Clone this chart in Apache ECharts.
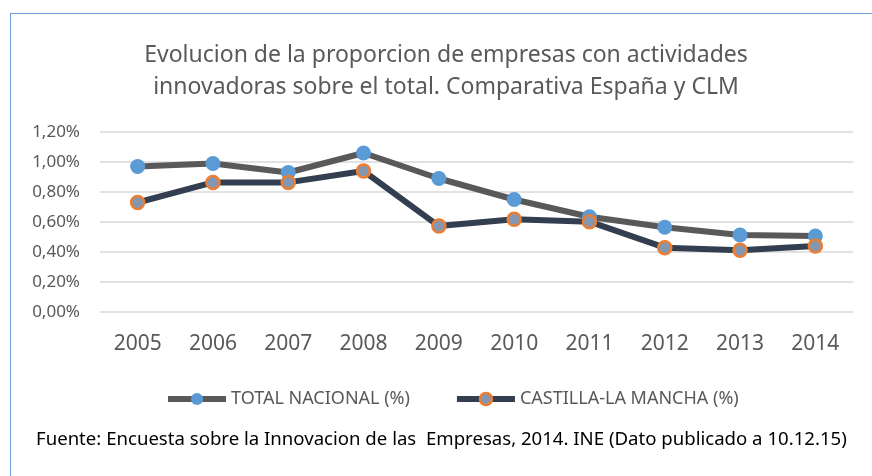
<!DOCTYPE html>
<html>
<head>
<meta charset="utf-8">
<script src="https://cdn.jsdelivr.net/npm/echarts@6/dist/echarts.min.js"></script>
<style>
  html, body { margin: 0; padding: 0; background: #fff; overflow: hidden; }
  #chart { width: 872px; height: 476px; position: relative; }
  #frame { position: absolute; left: 10px; top: 13px; width: 900px; height: 500px;
           border-left: 1.5px solid #6a9fd8; border-top: 1.5px solid #6a9fd8; pointer-events: none; }
</style>
</head>
<body>
<div id="chart"></div>
<script>
  // datos
  var years = ['2005', '2006', '2007', '2008', '2009', '2010', '2011', '2012', '2013', '2014'];
  var totalNacional = [0.97, 0.99, 0.93, 1.06, 0.89, 0.75, 0.635, 0.565, 0.513, 0.507];
  var castillaLaMancha = [0.73, 0.864, 0.864, 0.94, 0.573, 0.618, 0.602, 0.429, 0.411, 0.44];
  var yTicks = { min: 0, max: 1.2, interval: 0.2 };

  var myChart = echarts.init(document.getElementById('chart'));
  var option = {
    backgroundColor: '#fff',
    animation: false,
    title: {
      text: 'Evolucion de la proporcion de empresas con actividades\ninnovadoras sobre el total. Comparativa España y CLM',
      left: 441,
      textAlign: 'center',
      top: 34,
      textStyle: {
        fontFamily: 'Noto Sans',
        fontWeight: 'normal',
        fontSize: 23,
        lineHeight: 32,
        color: '#595959'
      }
    },
    legend: {
      top: 385,
      left: 160,
      itemWidth: 58,
      itemHeight: 15,
      itemGap: 44,
      lineStyle: { width: 6 },
      itemStyle: { borderWidth: 'inherit' },
      textStyle: { fontFamily: 'Noto Sans', fontSize: 18, color: '#595959' },
      data: ['TOTAL NACIONAL (%)', 'CASTILLA-LA MANCHA (%)']
    },
    grid: { left: 100, right: 19, top: 132, bottom: 164, containLabel: false },
    xAxis: {
      type: 'category',
      data: years,
      boundaryGap: true,
      axisLine: { show: false },
      axisTick: { show: false },
      axisLabel: { fontFamily: 'Noto Sans', fontSize: 21, color: '#595959', margin: 22 }
    },
    yAxis: {
      type: 'value',
      min: yTicks.min,
      max: yTicks.max,
      interval: yTicks.interval,
      axisLine: { show: false },
      axisTick: { show: false },
      splitLine: { lineStyle: { color: '#d9d9d9', width: 1.5 } },
      axisLabel: {
        fontFamily: 'Noto Sans', fontSize: 17, color: '#595959', margin: 20,
        formatter: function (v) { return v.toFixed(2).replace('.', ',') + '%'; }
      }
    },
    series: [
      {
        name: 'TOTAL NACIONAL (%)',
        type: 'line',
        data: totalNacional,
        symbol: 'circle',
        symbolSize: 15,
        lineStyle: { color: '#595959', width: 6 },
        itemStyle: { color: '#5b9bd5', borderWidth: 0 }
      },
      {
        name: 'CASTILLA-LA MANCHA (%)',
        type: 'line',
        data: castillaLaMancha,
        symbol: 'circle',
        symbolSize: 13,
        lineStyle: { color: '#333f50', width: 6 },
        itemStyle: { color: '#8497b0', borderColor: '#ed7d31', borderWidth: 2.5 }
      }
    ],
    graphic: [
      {
        type: 'text',
        left: 36,
        top: 430,
        style: {
          text: 'Fuente: Encuesta sobre la Innovacion de las  Empresas, 2014. INE (Dato publicado a 10.12.15)',
          fontFamily: 'Noto Sans',
          fontSize: 18.6,
          fill: '#000'
        }
      }
    ]
  };
  option && myChart.setOption(option);
  var frame = document.createElement('div');
  frame.id = 'frame';
  document.getElementById('chart').appendChild(frame);
</script>
</body>
</html>
